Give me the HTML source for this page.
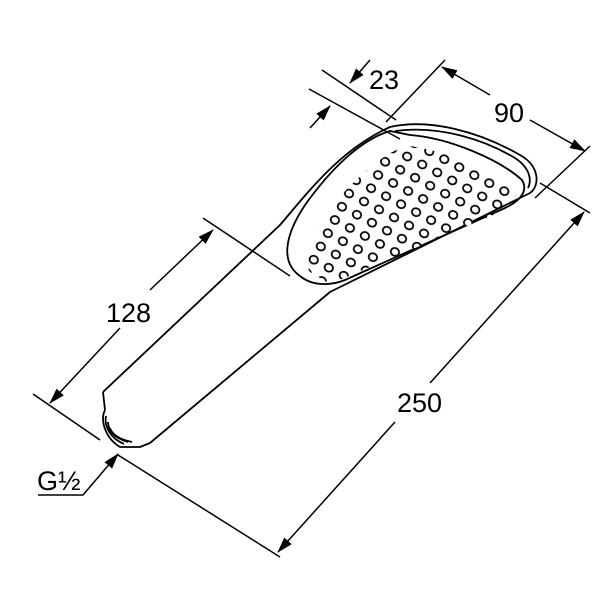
<!DOCTYPE html>
<html><head><style>html,body{margin:0;padding:0;background:#fff}svg{display:block}</style></head>
<body>
<svg width="600" height="600" viewBox="0 0 600 600" xmlns="http://www.w3.org/2000/svg">
<defs>
<marker id="a" markerWidth="16" markerHeight="10" refX="15" refY="5" orient="auto" markerUnits="userSpaceOnUse">
<path d="M0,0 L16,5 L0,10 Z" fill="#000"/></marker>
<pattern id="dots" width="17" height="15" patternUnits="userSpaceOnUse" patternTransform="rotate(28)">
<ellipse cx="8" cy="7" rx="4.3" ry="3.9" fill="#fff" stroke="#000" stroke-width="1.8"/>
</pattern>
<clipPath id="fc"><path d="M310,272 C298,255 318,220 348,188 C373,163 393,148 410,146 C450,152 490,170 520,190 L505,210 L330,284 Z"/></clipPath>
</defs>
<g fill="none" stroke="#000" stroke-width="1.8" stroke-linejoin="round">
<path d="M103,392 L280,225 C310,190 340,150 390,127 C430,118 480,132 520,155 C540,166 540,186 530,193 L330,292 L150,443"/>
<path d="M103,392 L105,410"/>
<path d="M105,410 C100,420 105,438 120,447 L140,447 L150,443"/>
<path d="M106,416 C104,426 110,438 124,444 M108,422 C108,430 114,438 128,442 M110,428 C112,434 118,439 132,442"/>
<path d="M395,131 C440,125 485,140 515,158 C530,168 532,180 528,188"/>
<path d="M390,131 C360,140 330,170 305,205 C285,235 280,262 300,276 C312,286 330,286 345,280 L505,208 C522,200 528,190 522,180 C500,160 450,138 410,135 Z"/>
</g>
<rect x="280" y="120" width="260" height="180" fill="url(#dots)" clip-path="url(#fc)"/>
<g fill="none" stroke="#000" stroke-width="1.5">
<line x1="322" y1="70" x2="396" y2="120"/>
<line x1="309" y1="89" x2="400" y2="139"/>
<line x1="370" y1="60" x2="350" y2="83" marker-end="url(#a)"/>
<line x1="310" y1="128" x2="330" y2="106" marker-end="url(#a)"/>
<line x1="445" y1="60" x2="386" y2="122"/>
<line x1="590" y1="146" x2="535" y2="198"/>
<line x1="490" y1="95" x2="442" y2="67" marker-end="url(#a)"/>
<line x1="530" y1="120" x2="585" y2="151" marker-end="url(#a)"/>
<line x1="540" y1="183" x2="590" y2="213"/>
<line x1="118" y1="455" x2="280" y2="557"/>
<line x1="430" y1="383" x2="584" y2="212" marker-end="url(#a)"/>
<line x1="395" y1="422" x2="278" y2="552" marker-end="url(#a)"/>
<line x1="203" y1="218" x2="290" y2="276"/>
<line x1="33" y1="394" x2="100" y2="440"/>
<line x1="150" y1="290" x2="213" y2="230" marker-end="url(#a)"/>
<line x1="120" y1="328" x2="50" y2="403" marker-end="url(#a)"/>
<polyline points="38,495 83,495 118,454" marker-end="url(#a)"/>
</g>
<g style="font-family:'Liberation Sans',sans-serif;font-size:27px" fill="#000">
<text x="369" y="89">23</text>
<text x="494" y="122">90</text>
<text x="397" y="412">250</text>
<text x="106" y="322">128</text>
<text x="37" y="490">G½</text>
</g>
</svg>
</body></html>
